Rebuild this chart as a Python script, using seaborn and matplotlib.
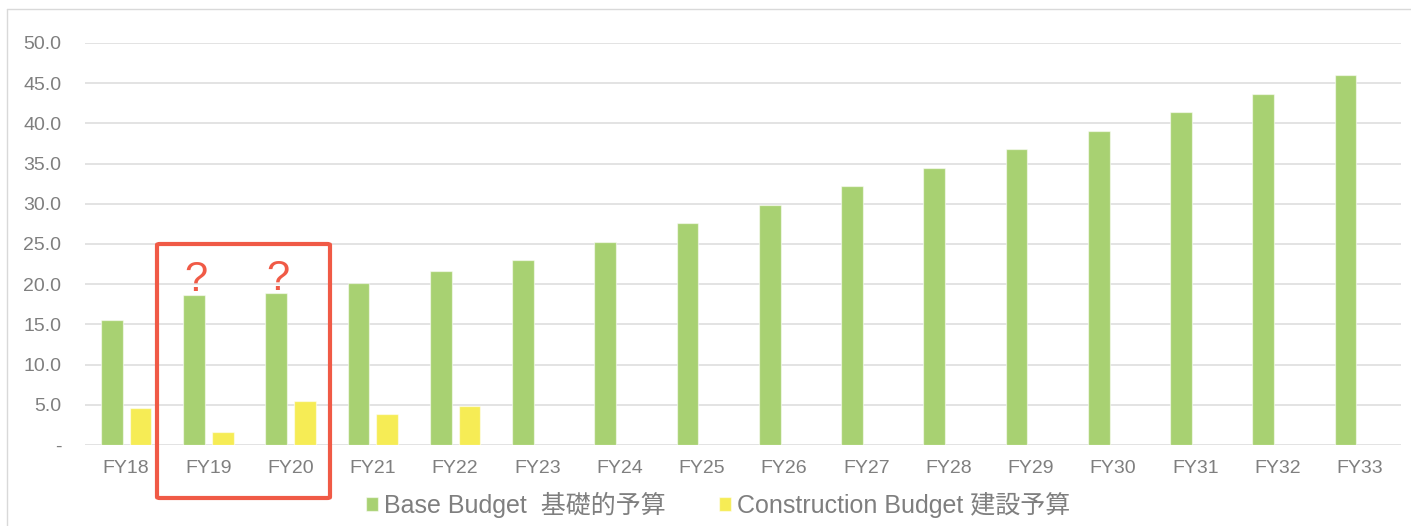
import numpy as np
import pandas as pd
import matplotlib.pyplot as plt
import matplotlib.patches as mpatches
import seaborn as sns

# data
years = ['FY18', 'FY19', 'FY20', 'FY21', 'FY22', 'FY23', 'FY24', 'FY25',
         'FY26', 'FY27', 'FY28', 'FY29', 'FY30', 'FY31', 'FY32', 'FY33']
base_budget = [15.6, 18.7, 18.9, 20.2, 21.6, 23.0, 25.3, 27.6,
               29.9, 32.2, 34.5, 36.8, 39.1, 41.4, 43.7, 46.0]
construction_budget = [4.6, 1.6, 5.5, 3.8, 4.8] + [np.nan] * 11
series_names = ['Base Budget  基礎的予算', 'Construction Budget 建設予算']
flagged_years = ['FY19', 'FY20']
y_ticks = [0, 5, 10, 15, 20, 25, 30, 35, 40, 45, 50]

df = pd.concat([
    pd.DataFrame({'year': years, 'value': base_budget, 'series': series_names[0]}),
    pd.DataFrame({'year': years, 'value': construction_budget, 'series': series_names[1]}),
], ignore_index=True).dropna()

sns.set_style('white')
plt.rcParams['font.family'] = ['Liberation Sans', 'Noto Sans CJK JP', 'DejaVu Sans']

W, H = 1411, 526
fig = plt.figure(figsize=(W / 100, H / 100), dpi=100)
ax = fig.add_axes([85 / W, 1 - 445 / H, (1401 - 85) / W, (445 - 43) / H])

sns.barplot(data=df, x='year', y='value', hue='series', order=years,
            hue_order=series_names, palette=['#a8d172', '#f6ec55'],
            width=0.70, gap=0.24, saturation=1, ax=ax,
            edgecolor=(1, 1, 1, 0.55), linewidth=0.9)

ax.set_xlim(-0.5, len(years) - 0.5)
ax.set_ylim(0, 50)
ax.set_yticks(y_ticks)
ax.set_yticklabels(['-' if v == 0 else f'{v:.1f}' for v in y_ticks])
ax.set_xlabel('')
ax.set_ylabel('')
ax.grid(axis='y', color='#e0e0e0', lw=1.3)
ax.set_axisbelow(True)
sns.despine(ax=ax, left=True, bottom=True)
ax.tick_params(axis='both', length=0, labelsize=14, labelcolor='#7f7f7f')
ax.tick_params(axis='y', pad=17)
ax.tick_params(axis='x', pad=10.5)

# legend below the axes
handles, labels = ax.get_legend_handles_labels()
ax.get_legend().remove()
fig.legend(handles, labels, loc='center', bbox_to_anchor=(0.509, 1 - 505 / H),
           ncol=2, frameon=False, fontsize=18, labelcolor='#7f7f7f',
           handlelength=0.5, handleheight=0.5, handletextpad=0.25,
           columnspacing=2.1)

# question marks above the flagged green bars
green_bars = ax.containers[0]
for yr in flagged_years:
    i = years.index(yr)
    bar = green_bars[i]
    ax.text(bar.get_x() + bar.get_width() / 2 + 0.02, base_budget[i] + 0.4, '?',
            ha='center', va='baseline', fontsize=30, color='#f05a46')

# red highlight box and the outer frame
fig.add_artist(mpatches.FancyBboxPatch(
    (157 / W, 1 - 498 / H), (330 - 157) / W, (498 - 244) / H,
    boxstyle='round,pad=0,rounding_size=0.002', transform=fig.transFigure,
    fill=False, edgecolor='#f05a46', lw=3))
fig.add_artist(plt.Line2D([7 / W, 7 / W], [0, 1 - 9 / H],
                          transform=fig.transFigure, color='#d9d9d9', lw=1))
fig.add_artist(plt.Line2D([7 / W, 1], [1 - 9 / H, 1 - 9 / H],
                          transform=fig.transFigure, color='#d9d9d9', lw=1))

fig.savefig('out.png', dpi=100)
